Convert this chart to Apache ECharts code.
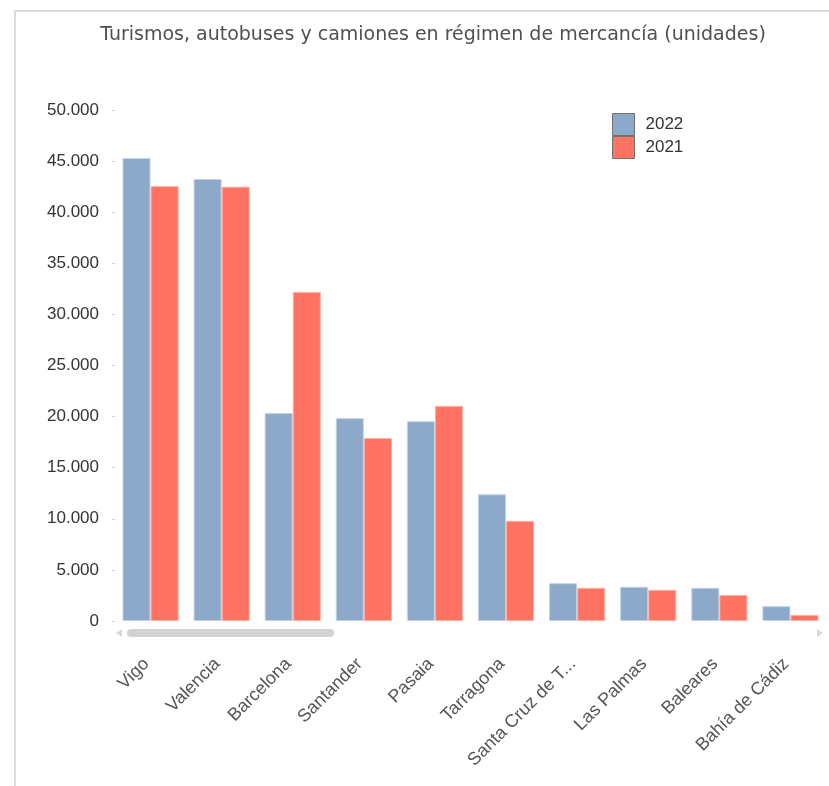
<!DOCTYPE html>
<html>
<head>
<meta charset="utf-8">
<script src="https://cdn.jsdelivr.net/npm/echarts@6/dist/echarts.min.js"></script>
<style>
html,body{margin:0;padding:0;background:#fff;}
#chart{width:829px;height:786px;}
</style>
</head>
<body>
<div id="chart"></div>
<script>
const categories = ["Vigo","Valencia","Barcelona","Santander","Pasaia","Tarragona","Santa Cruz de T...","Las Palmas","Baleares","Bahía de Cádiz"];
const values2022 = [45300, 43250, 20350, 19850, 19550, 12400, 3700, 3350, 3250, 1450];
const values2021 = [42550, 42500, 32200, 17900, 21050, 9800, 3250, 3050, 2550, 600];
const yTicks = [0, 5000, 10000, 15000, 20000, 25000, 30000, 35000, 40000, 45000, 50000];

const fmt = v => String(v).replace(/\B(?=(\d{3})+(?!\d))/g, '.');

const chart = echarts.init(document.getElementById('chart'));
chart.setOption({
  animation: false,
  title: {
    text: 'Turismos, autobuses y camiones en régimen de mercancía (unidades)',
    left: 428, top: 21, textAlign: 'center',
    textStyle: {fontFamily: 'DejaVu Sans', fontSize: 19, fontWeight: 'normal', color: '#505050'}
  },
  legend: {
    orient: 'vertical', left: 607, top: 108, itemGap: 0,
    itemWidth: 22, itemHeight: 22, icon: 'rect',
    itemStyle: {borderColor: '#707070', borderWidth: 1},
    textStyle: {fontFamily: 'Liberation Sans', fontSize: 17, color: '#333', padding: [0,0,0,6]},
    data: ['2022','2021']
  },
  grid: {left: 115, right: 3, top: 110, bottom: 165},
  xAxis: {
    type: 'category', data: categories,
    axisLine: {show: false}, axisTick: {show: false},
    axisLabel: {rotate: 45, interval: 0, margin: 36, padding: [0, 6, 0, 0], fontFamily: 'Liberation Sans', fontSize: 18, color: '#555'}
  },
  yAxis: {
    type: 'value', min: yTicks[0], max: yTicks[yTicks.length-1], interval: 5000,
    axisLine: {show: false},
    axisTick: {show: true, length: 3, lineStyle: {color: '#d0d0d0'}},
    splitLine: {show: false},
    axisLabel: {margin: 16, fontFamily: 'Liberation Sans', fontSize: 17, color: '#333', formatter: fmt}
  },
  series: [
    {name: '2022', type: 'bar', data: values2022, barGap: '0%', barCategoryGap: '21%',
     itemStyle: {color: '#8da9c9', borderColor: '#c5d3e4', borderWidth: 1}},
    {name: '2021', type: 'bar', data: values2021,
     itemStyle: {color: '#ff7362', borderColor: '#ffb0a6', borderWidth: 1}}
  ],
  graphic: [
    {type: 'line', shape: {x1: 14, y1: 11, x2: 829, y2: 11}, style: {stroke: '#dcdcdc', lineWidth: 2}, silent: true},
    {type: 'line', shape: {x1: 15, y1: 10, x2: 15, y2: 786}, style: {stroke: '#dcdcdc', lineWidth: 2}, silent: true},
    {type: 'rect', shape: {x: 127, y: 629, width: 207, height: 8, r: 4}, style: {fill: '#d3d3d3'}, silent: true},
    {type: 'polygon', shape: {points: [[116,633],[122,629],[122,637]]}, style: {fill: '#d8d8d8'}, silent: true},
    {type: 'polygon', shape: {points: [[823,633],[817,629],[817,637]]}, style: {fill: '#d8d8d8'}, silent: true}
  ]
});
</script>
</body>
</html>
